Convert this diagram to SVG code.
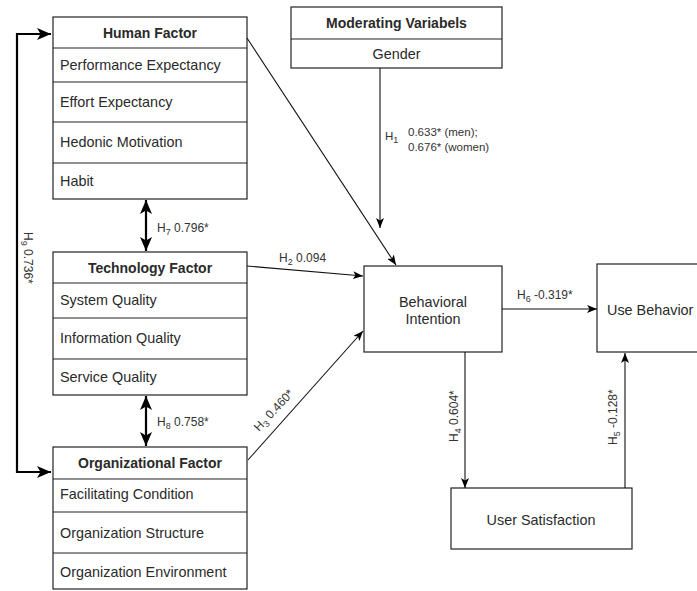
<svg xmlns="http://www.w3.org/2000/svg" width="697" height="591" viewBox="0 0 697 591">
<style>
  .box { fill: #ffffff; stroke: #222; stroke-width: 1.2; }
  .div { stroke: #222; stroke-width: 1.2; }
  .t { font-family: "Liberation Sans", Arial, sans-serif; font-size: 14.4px; fill: #2a2a2a; }
  .b { font-weight: bold; font-size: 14px; }
  .c { text-anchor: middle; }
  .lbl { font-family: "Liberation Sans", Arial, sans-serif; font-size: 12px; fill: #333; }
  .sm { font-size: 11.5px; }
  .thin { fill: none; stroke: #111; stroke-width: 1.1; marker-end: url(#aThin); }
  .thick { fill: none; stroke: #000; stroke-width: 2.2; }
</style>
<defs>
  <marker id="aThin" markerUnits="userSpaceOnUse" viewBox="0 0 10 8" refX="10" refY="4" markerWidth="10" markerHeight="8" orient="auto-start-reverse">
    <path d="M0,0 L10,4 L0,8 L2.5,4 Z" fill="#000"/>
  </marker>
  <marker id="aThick" markerUnits="userSpaceOnUse" viewBox="0 0 14 12" refX="14" refY="6" markerWidth="14" markerHeight="12" orient="auto-start-reverse">
    <path d="M0,0 L14,6 L0,12 L3.5,6 Z" fill="#000"/>
  </marker>
</defs>

<g id="human-factor">
  <rect class="box" x="53" y="17" width="194" height="182"/>
  <line class="div" x1="53" y1="48" x2="247" y2="48"/>
  <line class="div" x1="53" y1="82" x2="247" y2="82"/>
  <line class="div" x1="53" y1="122" x2="247" y2="122"/>
  <line class="div" x1="53" y1="163" x2="247" y2="163"/>
  <text class="t b c" x="150" y="38">Human Factor</text>
  <text class="t" x="60" y="70">Performance Expectancy</text>
  <text class="t" x="60" y="107">Effort Expectancy</text>
  <text class="t" x="60" y="147">Hedonic Motivation</text>
  <text class="t" x="60" y="186">Habit</text>
</g>

<g id="technology-factor">
  <rect class="box" x="53" y="252" width="194" height="143"/>
  <line class="div" x1="53" y1="283" x2="247" y2="283"/>
  <line class="div" x1="53" y1="318" x2="247" y2="318"/>
  <line class="div" x1="53" y1="359" x2="247" y2="359"/>
  <text class="t b c" x="150" y="273">Technology Factor</text>
  <text class="t" x="60" y="305">System Quality</text>
  <text class="t" x="60" y="343">Information Quality</text>
  <text class="t" x="60" y="382">Service Quality</text>
</g>

<g id="organizational-factor">
  <rect class="box" x="53" y="447" width="194" height="142"/>
  <line class="div" x1="53" y1="479" x2="247" y2="479"/>
  <line class="div" x1="53" y1="512" x2="247" y2="512"/>
  <line class="div" x1="53" y1="553" x2="247" y2="553"/>
  <text class="t b c" x="150" y="468">Organizational Factor</text>
  <text class="t" x="60" y="499">Facilitating Condition</text>
  <text class="t" x="60" y="538">Organization Structure</text>
  <text class="t" x="60" y="577">Organization Environment</text>
</g>

<g id="moderating-variables">
  <rect class="box" x="291" y="7" width="211" height="61"/>
  <line class="div" x1="291" y1="39" x2="502" y2="39"/>
  <text class="t b c" x="396.5" y="28">Moderating Variabels</text>
  <text class="t c" x="396.5" y="59">Gender</text>
</g>

<g id="behavioral-intention">
  <rect class="box" x="364" y="266" width="138" height="86"/>
  <text class="t c" x="433" y="307">Behavioral</text>
  <text class="t c" x="433" y="324">Intention</text>
</g>

<g id="use-behavior">
  <rect class="box" x="597" y="264" width="110" height="88"/>
  <text class="t" x="607" y="315">Use Behavior</text>
</g>

<g id="user-satisfaction">
  <rect class="box" x="451" y="488" width="181" height="61"/>
  <text class="t c" x="541" y="525">User Satisfaction</text>
</g>

<g id="connectors">
  <path class="thick" d="M51,34 L17,34 L17,472 L51,472" marker-start="url(#aThick)" marker-end="url(#aThick)"/>
  <line class="thick" x1="146" y1="200" x2="146" y2="251" marker-start="url(#aThick)" marker-end="url(#aThick)"/>
  <line class="thick" x1="146" y1="396" x2="146" y2="446" marker-start="url(#aThick)" marker-end="url(#aThick)"/>
  <line class="thin" x1="247" y1="38" x2="396" y2="265"/>
  <line class="thin" x1="380" y1="68" x2="380" y2="228"/>
  <line class="thin" x1="247" y1="266" x2="363" y2="276"/>
  <line class="thin" x1="248" y1="460" x2="363" y2="331"/>
  <line class="thin" x1="502" y1="309" x2="597" y2="309"/>
  <line class="thin" x1="465" y1="352" x2="465" y2="488"/>
  <line class="thin" x1="625" y1="488" x2="625" y2="353"/>

  <text class="lbl" transform="translate(24,232) rotate(90)">H<tspan font-size="9" dy="3">9</tspan><tspan dy="-3"> 0.736*</tspan></text>
  <text class="lbl" x="157" y="232">H<tspan font-size="9" dy="3">7</tspan><tspan dy="-3"> 0.796*</tspan></text>
  <text class="lbl" x="157" y="426">H<tspan font-size="9" dy="3">8</tspan><tspan dy="-3"> 0.758*</tspan></text>
  <text class="lbl sm" x="385" y="140">H<tspan font-size="9" dy="3">1</tspan></text>
  <text class="lbl sm" x="408" y="136">0.633* (men);</text>
  <text class="lbl sm" x="408" y="151">0.676* (women)</text>
  <text class="lbl" x="279" y="262">H<tspan font-size="9" dy="3">2</tspan><tspan dy="-3"> 0.094</tspan></text>
  <text class="lbl" transform="translate(259,432) rotate(-47)">H<tspan font-size="9" dy="3">3</tspan><tspan dy="-3"> 0.460*</tspan></text>
  <text class="lbl" x="517" y="299">H<tspan font-size="9" dy="3">6</tspan><tspan dy="-3"> -0.319*</tspan></text>
  <text class="lbl" transform="translate(458,442) rotate(-90)">H<tspan font-size="9" dy="3">4</tspan><tspan dy="-3"> 0.604*</tspan></text>
  <text class="lbl" transform="translate(617,445) rotate(-90)">H<tspan font-size="9" dy="3">5</tspan><tspan dy="-3"> -0.128*</tspan></text>
</g>
</svg>
